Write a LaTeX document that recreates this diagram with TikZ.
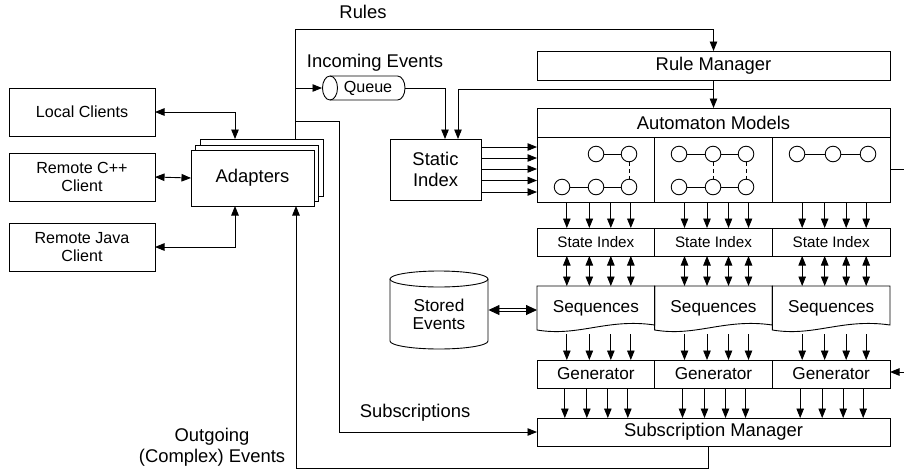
\documentclass[tikz,border=0pt]{standalone}
\usepackage{fontspec}
\setmainfont{Liberation Sans}
\usetikzlibrary{arrows.meta,calc}
\begin{document}
\begin{tikzpicture}[x=1pt,y=-1pt, line width=0.9pt,
  box/.style={draw, fill=white, inner sep=0pt, outer sep=0pt, align=center},
  big/.style={font=\fontsize{18.4}{21}\selectfont},
  mid/.style={font=\fontsize{17.2}{18}\selectfont},
  small/.style={font=\fontsize{16.1}{18}\selectfont},
  tiny/.style={font=\fontsize{15.2}{17}\selectfont},
  arr/.style={-{Triangle[length=9.5pt,width=7.5pt]}},
  darr/.style={{Triangle[length=9.5pt,width=7.5pt]}-{Triangle[length=9.5pt,width=7.5pt]}},
  st/.style={circle, draw, minimum size=15.6pt, inner sep=0pt, outer sep=0pt},
  lbl/.style={inner sep=0pt, align=center},
]
\useasboundingbox (0,0) rectangle (904,472);

% clients
\node[box,small,minimum width=146,minimum height=48] (lc) at (82,112) {Local Clients};
\node[box,small,minimum width=146,minimum height=48] (rc) at (82,177) {Remote C++\\Client};
\node[box,small,minimum width=146,minimum height=48] (rj) at (82,247) {Remote Java\\Client};

% adapters (stack)
\node[box,minimum width=123,minimum height=57] (ad3) at (261.5,167.5) {};
\node[box,minimum width=123,minimum height=56] (ad2) at (257,173) {};
\node[box,big,minimum width=123,minimum height=56] (ad1) at (252.5,178) {Adapters};

% queue
\node[inner sep=0pt, outer sep=0pt, minimum width=83, minimum height=24] (queue) at (363.5,88) {};
\draw (330,76) -- (397.5,76) arc[start angle=-90,end angle=90,x radius=7.5,y radius=12] -- (330,100);
\draw (330,88) ellipse[x radius=7.5,y radius=12];
\node[lbl,small] (queuetext) at (368,88) {Queue};

% static index
\node[box,big,minimum width=91,minimum height=61] (si) at (435.5,169.5) {Static\\Index};

% rule manager and automaton
\node[box,big,minimum width=353,minimum height=29] (rm) at (713.5,65.5) {Rule Manager};
\node[box,big,minimum width=353,minimum height=29] (am) at (713.5,122.5) {Automaton Models};
\node[box,big,minimum width=353,minimum height=28] (sm) at (713.5,432) {Subscription Manager};

\foreach \i/\cx in {1/595.83,2/713.5,3/831.17} {
  \node[box,minimum width=117.67,minimum height=65] (amc\i) at (\cx,169.5) {};
  \node[box,tiny,minimum width=117.67,minimum height=28] (sx\i) at (\cx,242) {State Index};
  \node[box,mid,minimum width=117.67,minimum height=28] (gen\i) at (\cx,374) {Generator};
  \draw (\cx-58.83,286) -- (\cx+58.83,286) -- (\cx+58.83,325)
     .. controls (\cx+11,318) and (\cx-17,337) .. (\cx-58.83,330) -- cycle;
  \node[mid,inner sep=0pt,outer sep=0pt,minimum width=117.67,minimum height=44] (sq\i) at (\cx,308) {Sequences};
  \foreach \o in {-29,-6.5,15,35} {
    \draw[arr] ([xshift=\o]amc\i.south) -- ([xshift=\o]sx\i.north);
    \draw[darr] ([xshift=\o]sx\i.south) -- ++(0,30);
    \draw[arr] ([xshift=\o,yshift=-4]sq\i.south) -- ([xshift=\o]gen\i.north);
  }
  \foreach \o in {-31,-9,12,32} {
    \draw[arr] ([xshift=\o]gen\i.south) -- ++(0,30);
  }
}

% automaton state circles
\node[st] (a1) at (596,154) {};
\node[st] (a2) at (629,154) {};
\node[st] (a3) at (562,187) {};
\node[st] (a4) at (596,187) {};
\node[st] (a5) at (629,187) {};
\draw (a1) -- (a2);
\draw (a3) -- (a4) -- (a5);
\draw[dash pattern=on 4pt off 3pt] (a2) -- (a5);

\node[st] (b1) at (679,154) {};
\node[st] (b2) at (713,154) {};
\node[st] (b3) at (746,154) {};
\node[st] (b4) at (679,187) {};
\node[st] (b5) at (713,187) {};
\node[st] (b6) at (746,187) {};
\draw (b1) -- (b2) -- (b3);
\draw (b4) -- (b5) -- (b6);
\draw[dash pattern=on 4pt off 3pt] (b2) -- (b5);
\draw[dash pattern=on 4pt off 3pt] (b3) -- (b6);

\node[st] (c1) at (797,154) {};
\node[st] (c2) at (833,154) {};
\node[st] (c3) at (868,154) {};
\draw (c1) -- (c2) -- (c3);

% stored events
\draw (390,279) -- (390,341) arc[start angle=180,end angle=0,x radius=49,y radius=8] -- (488,279);
\draw (439,279) ellipse[x radius=49,y radius=8];
\node[lbl,mid,minimum width=98,minimum height=60] (se) at (439,314) {Stored\\Events};
\draw[{Triangle[length=11pt,width=10pt]}-{Triangle[length=11pt,width=10pt]}, double, double distance=2pt]
  ([yshift=4]se.east) -- ([yshift=4]se.east -| sq1.west);

% coordinates
\coordinate (bus) at (295,29);
\coordinate (subA) at (295,121);
\coordinate (subB) at (339,121);
\coordinate (lcA) at (235,139);
\coordinate (jvA) at (235,206);
\coordinate (outc) at (296,468);
\coordinate (rbranch) at (713.5,89);
\coordinate (offR) at (904,169);
\coordinate (offG) at (904,372);

% client connectors
\draw[darr] (lc.east) -| (lcA);
\draw[darr] (rc.east) -- (ad1.west);
\draw[darr] (rj.east) -| (jvA);

% rules / incoming events
\draw (ad3.north -| bus) -- (bus);
\draw[arr] (bus) -| (rm.north);
\draw[arr] (bus |- queue.west) -- (queue.west);
\draw[arr] (queue.east) -| ([xshift=9.5]si.north);
\draw[arr] (rm.south) -- (am.north);
\draw[arr] (rbranch) -| ([xshift=22.5]si.north);
\foreach \y in {147,158,169,180.5,192} {
  \draw[arr] (si.east |- 0,\y) -- (amc1.west |- 0,\y);
}

% subscriptions and outgoing
\draw (subA) -- (subB);
\draw[arr] (subB) |- (sm.west);
\draw[arr] ([xshift=-5.5]sm.south) |- (outc) -- (outc |- ad1.south);

% right edge
\draw (amc3.east) -- (amc3.east -| offR);
\draw[arr] (offG) -- (offG -| gen3.east);

% labels
\node[lbl,big] (rules) at (363,12) {Rules};
\node[lbl,big] (inev) at (375,63) {Incoming Events};
\node[lbl,big] (subs) at (415,413) {Subscriptions};
\node[lbl,big] (outev) at (212,447.5) {Outgoing\\(Complex) Events};
\end{tikzpicture}
\end{document}
